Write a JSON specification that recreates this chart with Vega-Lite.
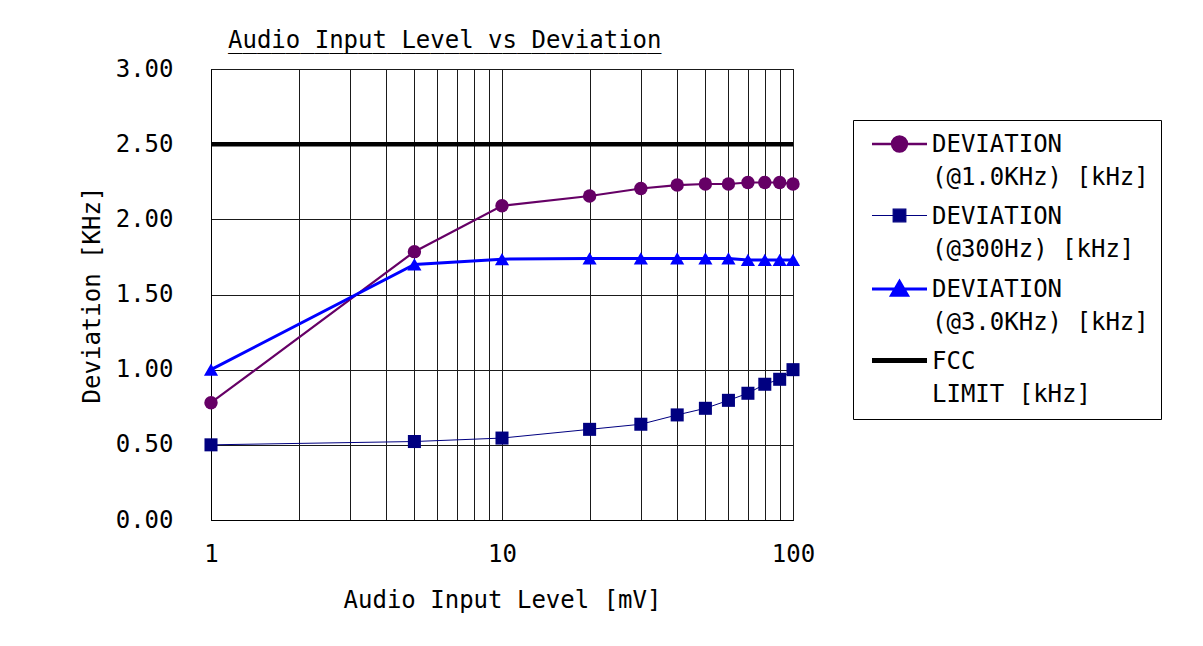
{
  "$schema": "https://vega.github.io/schema/vega-lite/v6.json",
  "width": 582,
  "height": 451,
  "autosize": {"type": "none"},
  "padding": {"left": 211, "top": 69, "right": 410, "bottom": 126},
  "background": "white",
  "title": {
    "text": "Audio Input Level vs Deviation",
    "subtitle": "______________________________",
    "anchor": "start",
    "frame": "group",
    "dx": 17,
    "dy": 36,
    "offset": 21,
    "baseline": "alphabetic",
    "font": "DejaVu Sans Mono",
    "fontSize": 24,
    "fontWeight": "normal",
    "color": "black",
    "subtitleFont": "DejaVu Sans Mono",
    "subtitleFontSize": 24,
    "subtitleColor": "black",
    "subtitlePadding": -24
  },
  "config": {
    "view": {"stroke": "black", "strokeWidth": 1},
    "font": "DejaVu Sans Mono"
  },
  "data": {
    "values": [
      {"series": "DEVIATION|(@1.0KHz) [kHz]", "x": 1, "y": 0.78},
      {"series": "DEVIATION|(@1.0KHz) [kHz]", "x": 5, "y": 1.785},
      {"series": "DEVIATION|(@1.0KHz) [kHz]", "x": 10, "y": 2.09},
      {"series": "DEVIATION|(@1.0KHz) [kHz]", "x": 20, "y": 2.155},
      {"series": "DEVIATION|(@1.0KHz) [kHz]", "x": 30, "y": 2.205},
      {"series": "DEVIATION|(@1.0KHz) [kHz]", "x": 40, "y": 2.228},
      {"series": "DEVIATION|(@1.0KHz) [kHz]", "x": 50, "y": 2.235},
      {"series": "DEVIATION|(@1.0KHz) [kHz]", "x": 60, "y": 2.235},
      {"series": "DEVIATION|(@1.0KHz) [kHz]", "x": 70, "y": 2.245},
      {"series": "DEVIATION|(@1.0KHz) [kHz]", "x": 80, "y": 2.245},
      {"series": "DEVIATION|(@1.0KHz) [kHz]", "x": 90, "y": 2.245},
      {"series": "DEVIATION|(@1.0KHz) [kHz]", "x": 100, "y": 2.235},
      {"series": "DEVIATION|(@300Hz) [kHz]", "x": 1, "y": 0.5},
      {"series": "DEVIATION|(@300Hz) [kHz]", "x": 5, "y": 0.522},
      {"series": "DEVIATION|(@300Hz) [kHz]", "x": 10, "y": 0.545},
      {"series": "DEVIATION|(@300Hz) [kHz]", "x": 20, "y": 0.603},
      {"series": "DEVIATION|(@300Hz) [kHz]", "x": 30, "y": 0.637},
      {"series": "DEVIATION|(@300Hz) [kHz]", "x": 40, "y": 0.699},
      {"series": "DEVIATION|(@300Hz) [kHz]", "x": 50, "y": 0.743},
      {"series": "DEVIATION|(@300Hz) [kHz]", "x": 60, "y": 0.796},
      {"series": "DEVIATION|(@300Hz) [kHz]", "x": 70, "y": 0.843},
      {"series": "DEVIATION|(@300Hz) [kHz]", "x": 80, "y": 0.903},
      {"series": "DEVIATION|(@300Hz) [kHz]", "x": 90, "y": 0.936},
      {"series": "DEVIATION|(@300Hz) [kHz]", "x": 100, "y": 1.0},
      {"series": "DEVIATION|(@3.0KHz) [kHz]", "x": 1, "y": 1.0},
      {"series": "DEVIATION|(@3.0KHz) [kHz]", "x": 5, "y": 1.70},
      {"series": "DEVIATION|(@3.0KHz) [kHz]", "x": 10, "y": 1.735},
      {"series": "DEVIATION|(@3.0KHz) [kHz]", "x": 20, "y": 1.74},
      {"series": "DEVIATION|(@3.0KHz) [kHz]", "x": 30, "y": 1.74},
      {"series": "DEVIATION|(@3.0KHz) [kHz]", "x": 40, "y": 1.74},
      {"series": "DEVIATION|(@3.0KHz) [kHz]", "x": 50, "y": 1.74},
      {"series": "DEVIATION|(@3.0KHz) [kHz]", "x": 60, "y": 1.74},
      {"series": "DEVIATION|(@3.0KHz) [kHz]", "x": 70, "y": 1.73},
      {"series": "DEVIATION|(@3.0KHz) [kHz]", "x": 80, "y": 1.73},
      {"series": "DEVIATION|(@3.0KHz) [kHz]", "x": 90, "y": 1.73},
      {"series": "DEVIATION|(@3.0KHz) [kHz]", "x": 100, "y": 1.73},
      {"series": "FCC|LIMIT [kHz]", "x": 1, "y": 2.5},
      {"series": "FCC|LIMIT [kHz]", "x": 100, "y": 2.5}
    ]
  },
  "encoding": {
    "x": {
      "field": "x",
      "type": "quantitative",
      "scale": {"type": "log", "domain": [1, 100], "nice": false},
      "axis": {
        "title": "Audio Input Level [mV]",
        "values": [1, 2, 3, 4, 5, 6, 7, 8, 9, 10, 20, 30, 40, 50, 60, 70, 80, 90, 100],
        "format": "d",
        "labelExpr": "datum.value == 1 || datum.value == 10 || datum.value == 100 ? datum.label : ''",
        "labelOverlap": false,
        "labelFlush": false,
        "tickSize": 0,
        "domainColor": "black",
        "grid": true,
        "gridColor": "#1a1a1a",
        "gridOpacity": 1,
        "labelFont": "DejaVu Sans Mono",
        "labelFontSize": 24,
        "labelColor": "black",
        "labelPadding": 22,
        "titleFont": "DejaVu Sans Mono",
        "titleFontSize": 24,
        "titleFontWeight": "normal",
        "titleColor": "black",
        "titlePadding": 22
      }
    },
    "y": {
      "field": "y",
      "type": "quantitative",
      "scale": {"domain": [0, 3], "nice": false},
      "axis": {
        "title": "Deviation [KHz]",
        "values": [0, 0.5, 1, 1.5, 2, 2.5, 3],
        "format": ".2f",
        "tickSize": 0,
        "domainColor": "black",
        "grid": true,
        "gridColor": "#1a1a1a",
        "gridOpacity": 1,
        "labelFont": "DejaVu Sans Mono",
        "labelFontSize": 24,
        "labelColor": "black",
        "labelPadding": 38,
        "titleFont": "DejaVu Sans Mono",
        "titleFontSize": 24,
        "titleFontWeight": "normal",
        "titleColor": "black",
        "titlePadding": 11
      }
    },
    "color": {
      "field": "series",
      "type": "nominal",
      "scale": {
        "domain": ["DEVIATION|(@1.0KHz) [kHz]", "DEVIATION|(@300Hz) [kHz]", "DEVIATION|(@3.0KHz) [kHz]", "FCC|LIMIT [kHz]"],
        "range": ["#660066", "#000080", "#0000FF", "#000000"]
      },
      "legend": {
        "title": null,
        "orient": "none",
        "legendX": 642,
        "legendY": 51,
        "strokeColor": "black",
        "fillColor": "white",
        "padding": 12,
        "symbolSize": 3025,
        "symbolOpacity": 1,
        "labelOffset": 5,
        "labelFont": "DejaVu Sans Mono",
        "labelFontSize": 24,
        "labelColor": "black",
        "labelLimit": 400,
        "labelBaseline": "alphabetic",
        "rowPadding": 13.5,
        "labelExpr": "split(datum.label, '|')",
        "encode": {
          "symbols": {
            "update": {
              "x": {"value": 34.5},
              "shape": {"signal": "datum.value == 'DEVIATION|(@1.0KHz) [kHz]' ? 'M-1,0H1M0.27,0C0.27,0.149,0.149,0.27,0,0.27C-0.149,0.27,-0.27,0.149,-0.27,0C-0.27,-0.149,-0.149,-0.27,0,-0.27C0.149,-0.27,0.27,-0.149,0.27,0Z' : datum.value == 'DEVIATION|(@300Hz) [kHz]' ? 'M-1,0H1M-0.23,-0.23H0.23V0.23H-0.23Z' : datum.value == 'DEVIATION|(@3.0KHz) [kHz]' ? 'M-1,0H1M0,-0.27L0.29,0.23L-0.29,0.23Z' : 'M-1,0H1'"},
              "strokeWidth": {"signal": "datum.value == 'DEVIATION|(@1.0KHz) [kHz]' ? 2.5 : datum.value == 'DEVIATION|(@300Hz) [kHz]' ? 1.2 : datum.value == 'DEVIATION|(@3.0KHz) [kHz]' ? 3 : 5"},
              "opacity": {"value": 1}
            }
          },
          "labels": {
            "update": {
              "x": {"value": 67},
              "lineHeight": {"value": 33},
              "dy": {"value": 8}
            }
          }
        }
      }
    }
  },
  "layer": [
    {
      "transform": [{"filter": "datum.series == 'DEVIATION|(@1.0KHz) [kHz]'"}],
      "mark": {"type": "line", "strokeWidth": 2.2},
      "encoding": {}
    },
    {
      "transform": [{"filter": "datum.series == 'DEVIATION|(@300Hz) [kHz]'"}],
      "mark": {"type": "line", "strokeWidth": 1},
      "encoding": {}
    },
    {
      "transform": [{"filter": "datum.series == 'DEVIATION|(@3.0KHz) [kHz]'"}],
      "mark": {"type": "line", "strokeWidth": 3},
      "encoding": {}
    },
    {
      "transform": [{"filter": "datum.series == 'FCC|LIMIT [kHz]'"}],
      "mark": {"type": "line", "strokeWidth": 4.5},
      "encoding": {}
    },
    {
      "transform": [{"filter": "datum.series == 'DEVIATION|(@1.0KHz) [kHz]'"}],
      "mark": {"type": "point", "shape": "circle", "filled": true, "opacity": 1, "size": 180},
      "encoding": {}
    },
    {
      "transform": [{"filter": "datum.series == 'DEVIATION|(@300Hz) [kHz]'"}],
      "mark": {"type": "point", "shape": "square", "filled": true, "opacity": 1, "size": 170},
      "encoding": {}
    },
    {
      "transform": [{"filter": "datum.series == 'DEVIATION|(@3.0KHz) [kHz]'"}],
      "mark": {"type": "point", "shape": "triangle-up", "filled": true, "opacity": 1, "size": 200},
      "encoding": {}
    }
  ]
}
